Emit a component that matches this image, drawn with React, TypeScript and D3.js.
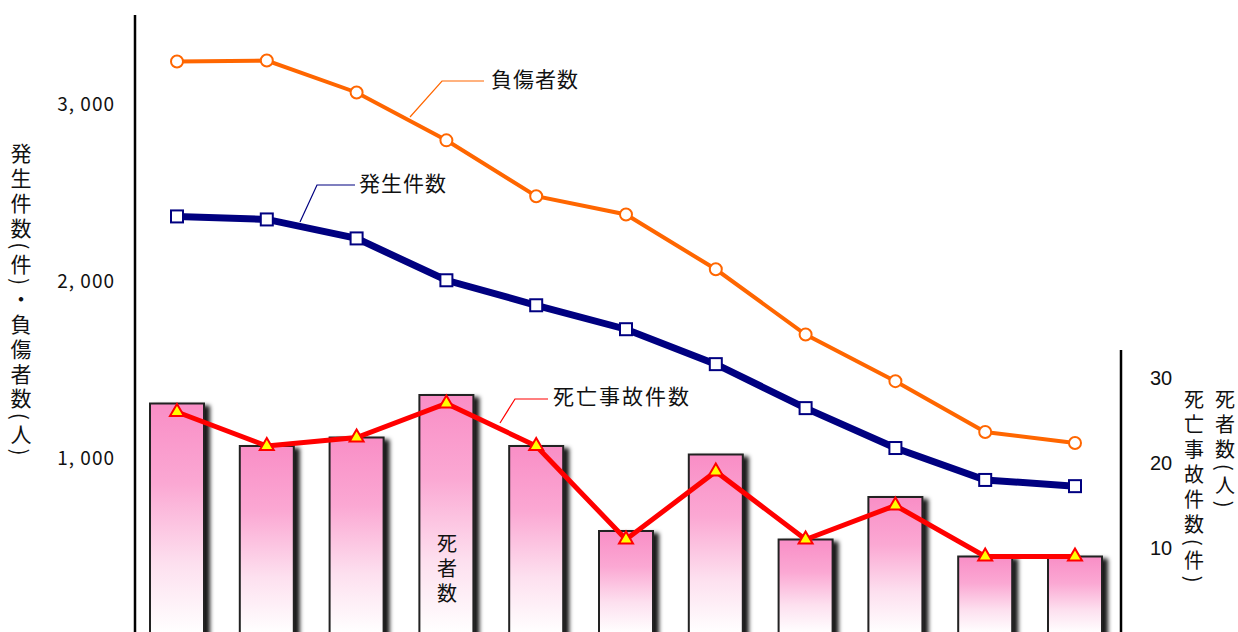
import React from "react";
import * as d3 from "d3";

const categories = ["H15", "H16", "H17", "H18", "H19", "H20", "H21", "H22", "H23", "H24", "H25"];
const injured = [3240, 3245, 3065, 2795, 2480, 2377, 2068, 1700, 1437, 1150, 1088];
const accidents = [2366, 2349, 2242, 2006, 1865, 1730, 1533, 1285, 1060, 880, 845];
const fatalAccidents = [26, 22, 23, 27, 22, 11, 19, 11, 15, 9, 9];
const deaths = [27, 22, 23, 28, 22, 12, 21, 11, 16, 9, 9];
const leftTicks = [1000, 2000, 3000];
const rightTicks = [10, 20, 30];

const W = 1238;
const H = 632;
const JP = "'Noto Sans CJK JP', 'Noto Sans', sans-serif";

export default function App() {
  const x = d3.scalePoint<string>().domain(categories).range([177, 1075]);
  const yL = d3.scaleLinear().domain([0, 3000]).range([636, 104]);
  const yR = d3.scaleLinear().domain([0, 30]).range([633, 378]);
  const barW = 54;

  const lineL = d3
    .line<number>()
    .x((_, i) => x(categories[i]) as number)
    .y((d) => yL(d));
  const lineR = d3
    .line<number>()
    .x((_, i) => x(categories[i]) as number)
    .y((d) => yR(d));

  const tri = d3.symbol().type(d3.symbolTriangle).size(85)();

  const vText = (
    str: string,
    xPos: number,
    yStart: number,
    size: number,
    spacing: number
  ) => (
    <text
      x={xPos}
      y={yStart}
      fontSize={size}
      fontFamily={JP}
      fill="#111"
      style={{ writingMode: "vertical-rl", letterSpacing: `${spacing}px` } as any}
    >
      {str}
    </text>
  );

  return (
    <svg
      width={W}
      height={H}
      style={{ position: "fixed", left: 0, top: 0, background: "#fff" }}
    >
      <defs>
        <linearGradient id="barGrad" x1="0" y1="0" x2="0" y2="1">
          <stop offset="0%" stopColor="#f98ec6" />
          <stop offset="35%" stopColor="#fba8d3" />
          <stop offset="70%" stopColor="#fde0ef" />
          <stop offset="100%" stopColor="#ffffff" />
        </linearGradient>
        <filter id="shadow" x="-20%" y="-20%" width="150%" height="150%">
          <feDropShadow dx="5" dy="3" stdDeviation="2" floodColor="#000" floodOpacity="0.9" />
        </filter>
      </defs>

      {/* bars: deaths */}
      {deaths.map((d, i) => (
        <rect
          key={"b" + i}
          x={(x(categories[i]) as number) - barW / 2}
          y={yR(d)}
          width={barW}
          height={yR(0) - yR(d)}
          fill="url(#barGrad)"
          stroke="#222"
          strokeWidth={2}
          filter="url(#shadow)"
        />
      ))}

      {/* axes */}
      <line x1={135} x2={135} y1={15} y2={H} stroke="#000" strokeWidth={2.5} />
      <line x1={1121} x2={1121} y1={350} y2={H} stroke="#000" strokeWidth={2.5} />

      {leftTicks.map((t) => (
        <text
          key={"lt" + t}
          x={115}
          y={yL(t)}
          dy="0.35em"
          textAnchor="end"
          fontSize={19}
          fontFamily={JP}
          fill="#111"
          style={{ letterSpacing: "1px" } as any}
        >
          {d3.format(",")(t).replace(",", ", ")}
        </text>
      ))}
      {rightTicks.map((t) => (
        <text
          key={"rt" + t}
          x={1150}
          y={yR(t)}
          dy="0.35em"
          textAnchor="start"
          fontSize={20}
          fontFamily="'Liberation Sans', Arial, sans-serif"
          fill="#111"
        >
          {t}
        </text>
      ))}

      {/* axis titles */}
      {vText("発生件数(件)・負傷者数(人)", 21, 143, 21, 3.8)}
      {vText("死亡事故件数(件)", 1194, 389, 20, 5)}
      {vText("死者数(人)", 1225, 389, 20, 5)}

      {/* injured line */}
      <path d={lineL(injured) || ""} fill="none" stroke="#ff6600" strokeWidth={4} />
      {injured.map((d, i) => (
        <circle
          key={"c" + i}
          cx={x(categories[i]) as number}
          cy={yL(d)}
          r={6}
          fill="#fff"
          stroke="#ff6600"
          strokeWidth={2}
        />
      ))}

      {/* accidents line */}
      <path d={lineL(accidents) || ""} fill="none" stroke="#000080" strokeWidth={7} />
      {accidents.map((d, i) => (
        <rect
          key={"s" + i}
          x={(x(categories[i]) as number) - 6}
          y={yL(d) - 6}
          width={12}
          height={12}
          fill="#fff"
          stroke="#000080"
          strokeWidth={2}
        />
      ))}

      {/* fatal accidents line */}
      <path d={lineR(fatalAccidents) || ""} fill="none" stroke="#ff0000" strokeWidth={5} />
      {fatalAccidents.map((d, i) => (
        <path
          key={"t" + i}
          d={tri || ""}
          transform={`translate(${x(categories[i])},${yR(d)})`}
          fill="#ffff00"
          stroke="#ff0000"
          strokeWidth={2}
        />
      ))}

      {/* callouts */}
      <polyline points="410,117 442,81 484,81" fill="none" stroke="#ff6600" strokeWidth={1.2} />
      <text x={491} y={80} dy="0.35em" fontSize={21} fontFamily={JP} fill="#111" style={{ letterSpacing: "1px" } as any}>
        負傷者数
      </text>
      <polyline points="300,222 317,185 355,185" fill="none" stroke="#000080" strokeWidth={1.2} />
      <text x={359} y={184} dy="0.35em" fontSize={21} fontFamily={JP} fill="#111" style={{ letterSpacing: "1px" } as any}>
        発生件数
      </text>
      <polyline points="500,423 515,399 548,399" fill="none" stroke="#ff0000" strokeWidth={1.2} />
      <text x={553} y={397} dy="0.35em" fontSize={21} fontFamily={JP} fill="#111" style={{ letterSpacing: "2px" } as any}>
        死亡事故件数
      </text>
      {vText("死者数", 447, 533, 20, 5)}
    </svg>
  );
}
